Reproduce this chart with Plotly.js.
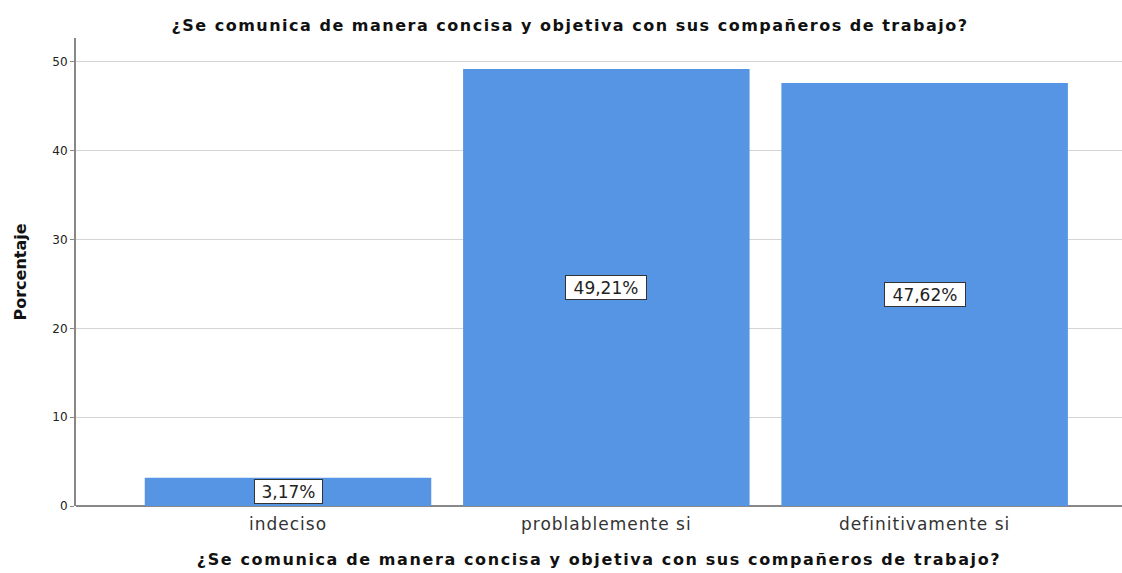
<!DOCTYPE html>
<html><head><meta charset="utf-8">
<script src="https://cdn.plot.ly/plotly-3.0.1.min.js"></script>
<style>
html,body{margin:0;padding:0;background:#fff}
.gtitle{letter-spacing:1.5px}
.g-xtitle text{letter-spacing:1.6px}
.xtick text{letter-spacing:1px}
</style>
</head><body>
<div id="chart" style="width:1122px;height:573px"></div>
<script>
const categories = ["indeciso", "problablemente si", "definitivamente si"];
const values = [3.17, 49.21, 47.62];
const valueLabels = ["3,17%", "49,21%", "47,62%"];
const yTicks = [0, 10, 20, 30, 40, 50];

const F = "DejaVu Sans, Verdana, sans-serif";

const trace = {
  type: "bar",
  x: categories,
  y: values,
  width: 0.9,
  marker: {color: "#5595e4", line: {width: 0}},
  hoverinfo: "skip"
};

const annotations = categories.map((c, i) => ({
  x: c, y: values[i] / 2, xref: "x", yref: "y",
  text: valueLabels[i], showarrow: false,
  width: valueLabels[i].length * 13, height: 21,
  font: {family: F, size: 17, color: "#222"},
  bgcolor: "#ffffff", bordercolor: "#333", borderwidth: 1, borderpad: 1
}));

const layout = {
  width: 1122, height: 573,
  margin: {l: 76, r: 0, t: 38, b: 67},
  paper_bgcolor: "#fff", plot_bgcolor: "#fff",
  showlegend: false,
  title: {text: "¿Se comunica de manera concisa y objetiva con sus compañeros de trabajo?",
    font: {family: F, size: 16, color: "#111", weight: "bold"},
    x: 0.508, xanchor: "center", y: 0.955, yanchor: "middle"},
  xaxis: {
    range: [-0.666, 2.62], type: "category",
    showgrid: false, zeroline: false, showline: false, ticks: "",
    ticklabelstandoff: 6,
    tickfont: {family: F, size: 17, color: "#333"},
    title: {text: "¿Se comunica de manera concisa y objetiva con sus compañeros de trabajo?",
      font: {family: F, size: 16, color: "#111", weight: "bold"}, standoff: 20}
  },
  yaxis: {
    range: [0, 52.7], tickvals: yTicks, ticktext: yTicks.map(String),
    showgrid: true, gridcolor: "#d4d4d4", gridwidth: 1,
    zeroline: true, zerolinecolor: "#888", zerolinewidth: 2,
    showline: true, linecolor: "#888", linewidth: 2,
    ticks: "outside", ticklen: 4, tickcolor: "#888",
    tickfont: {family: F, size: 12, color: "#222"},
    title: {text: "Porcentaje",
      font: {family: F, size: 16, color: "#111", weight: "bold"}, standoff: 22}
  },
  annotations: annotations
};

Plotly.newPlot("chart", [trace], layout, {staticPlot: true, displayModeBar: false});
</script>
</body></html>
